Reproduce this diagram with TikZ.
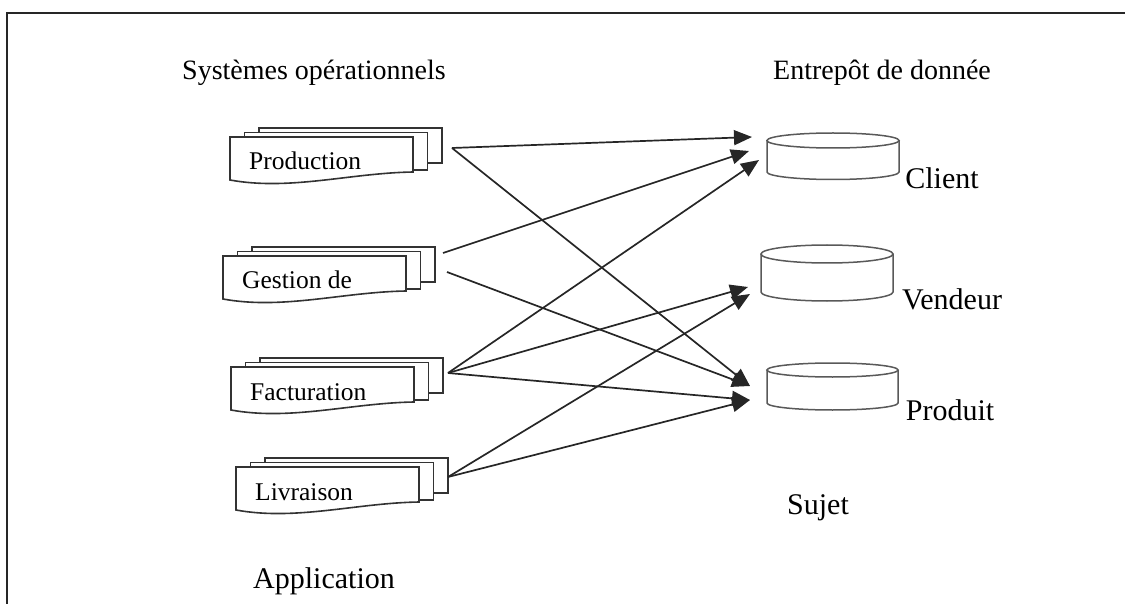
\documentclass[tikz,border=0pt]{standalone}
\usepackage{fontspec}
\setmainfont{Liberation Serif}
\usetikzlibrary{arrows.meta}

\tikzset{
  layer/.style={draw=black!80, fill=white, line width=1.6pt, line join=miter},
  boxtext/.style={inner sep=0pt, font=\fontsize{25.5}{30}\selectfont},
  title/.style={inner sep=0pt, font=\fontsize{28}{33}\selectfont},
  label/.style={inner sep=0pt, font=\fontsize{30}{36}\selectfont},
  conn/.style={draw=black!85, line width=1.7pt, -{Triangle[length=18pt,width=15pt]}},
  diskline/.style={draw=black!65, fill=white, line width=1.5pt},
  frame/.style={draw=black!85, line width=2.4pt},
  % stack of three documents, the front one with a wavy lower edge
  docstack/.pic={
    \path[layer] (29,-9) rectangle (212,26);
    \path[layer] (14.5,-4.5) rectangle (197.5,33);
    \path[layer] (0,0) -- (183,0) -- (183,35)
      .. controls (120,36) and (60,54) .. (0,43) -- cycle;
    \node[boxtext, anchor=base west] (-text) at (19,33) {#1};
  },
}

\begin{document}
\begin{tikzpicture}[x=1pt, y=-1pt]
\useasboundingbox (0,0) rectangle (1125,604);

% open frame: top and left edges
\draw[frame] (7,604) -- (7,13) -- (1125,13);

% column titles
\node[title, anchor=base] (tsys) at (314,80) {Systèmes opérationnels};
\node[title, anchor=base] (tdw) at (882,80) {Entrepôt de donnée};

% operational systems
\pic (prod) at (230,137) {docstack={Production}};
\pic (gest) at (223,256) {docstack={Gestion de}};
\pic (fact) at (231,367) {docstack={Facturation}};
\pic (livr) at (236,467) {docstack={Livraison}};

% warehouse subjects (flat cylinders)
\foreach \n/\cx/\yt/\yb/\rx/\ry in {client/833/140.5/172/66/7.5, vendeur/827/254/292/66/9, produit/832.5/370/403/65.5/7}{
  \path[diskline] (\cx-\rx,\yt) -- (\cx-\rx,\yb)
    arc[start angle=180, end angle=0, x radius=\rx, y radius=\ry] -- (\cx+\rx,\yt);
  \path[diskline] (\cx,\yt) ellipse[x radius=\rx, y radius=\ry];
  \coordinate (\n) at (\cx,\yt);
}

\node[label, anchor=base] (lclient) at (942,189) {Client};
\node[label, anchor=base] (lvendeur) at (952,309) {Vendeur};
\node[label, anchor=base] (lproduit) at (950,420) {Produit};
\node[label, anchor=base] (lsujet) at (818,514) {Sujet};
\node[label, anchor=base] (lapp) at (324,588) {Application};

% connector ends
\coordinate (sP) at (452,148);
\coordinate (sG1) at (443,253);
\coordinate (sG2) at (447,272);
\coordinate (sF) at (448,373);
\coordinate (sL) at (448,477);
\coordinate (tC1) at (752,137);
\coordinate (tC2) at (749,151);
\coordinate (tC3) at (759,160);
\coordinate (tV1) at (748,287);
\coordinate (tV2) at (750,294);
\coordinate (tP1) at (750,386);
\coordinate (tP2) at (750,400);

% data flows
\draw[conn] (sP) -- (tC1);
\draw[conn] (sP) -- (tP1);
\draw[conn] (sG1) -- (tC2);
\draw[conn] (sG2) -- (tP1);
\draw[conn] (sF) -- (tC3);
\draw[conn] (sF) -- (tV1);
\draw[conn] (sF) -- (tP2);
\draw[conn] (sL) -- (tV2);
\draw[conn] (sL) -- (tP2);
\end{tikzpicture}
\end{document}
